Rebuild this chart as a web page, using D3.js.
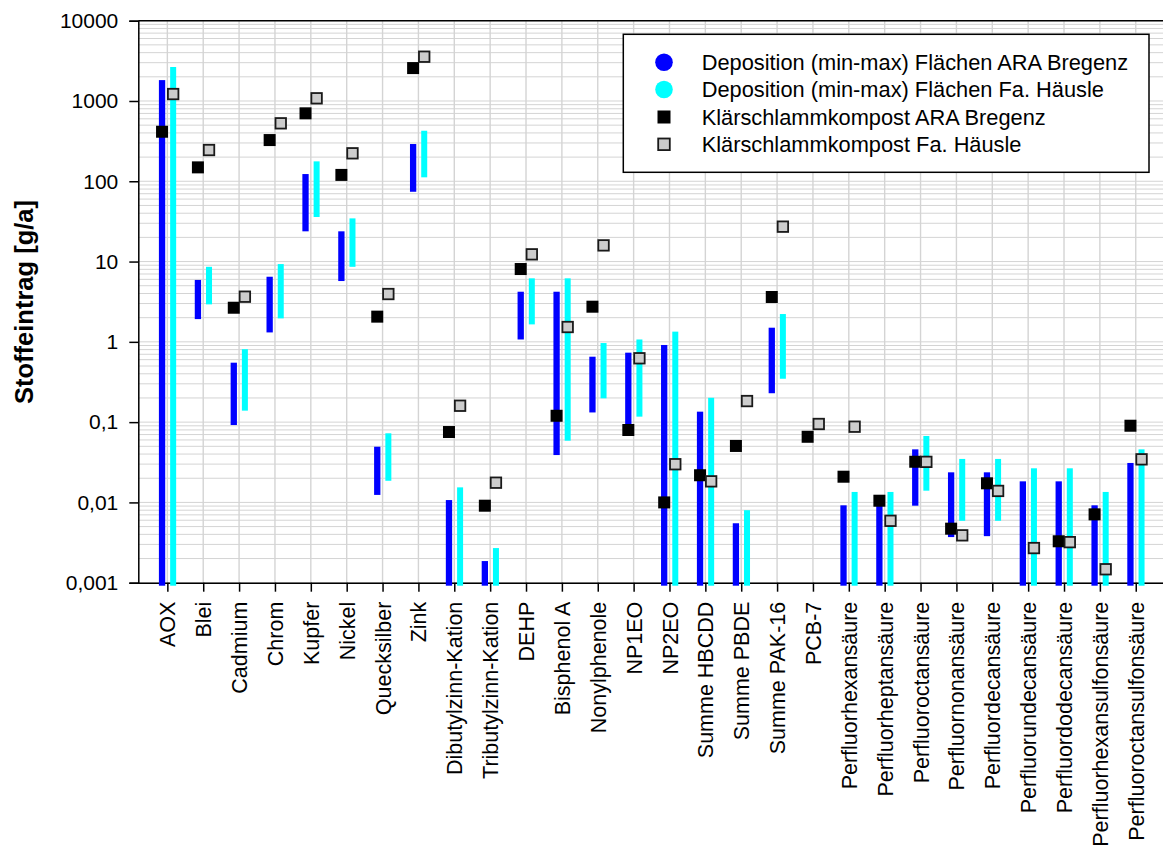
<!DOCTYPE html>
<html>
<head>
<meta charset="utf-8">
<script src="https://cdn.jsdelivr.net/npm/d3@7/dist/d3.min.js"></script>
<style>
  html, body { margin: 0; padding: 0; background: #ffffff; }
  svg { display: block; font-family: Arial, "Liberation Sans", sans-serif; }
</style>
</head>
<body>
<svg id="chart" width="1163" height="850"></svg>
<script>
// Substances on the x axis
const categories = [
  "AOX", "Blei", "Cadmium", "Chrom", "Kupfer", "Nickel", "Quecksilber", "Zink",
  "Dibutylzinn-Kation", "Tributylzinn-Kation", "DEHP", "Bisphenol A", "Nonylphenole",
  "NP1EO", "NP2EO", "Summe HBCDD", "Summe PBDE", "Summe PAK-16", "PCB-7",
  "Perfluorhexansäure", "Perfluorheptansäure", "Perfluoroctansäure", "Perfluornonansäure",
  "Perfluordecansäure", "Perfluorundecansäure", "Perfluordodecansäure",
  "Perfluorhexansulfonsäure", "Perfluoroctansulfonsäure"
];

// Deposition range (min / max) on the ARA Bregenz areas, g/a
const depAraMin = [0.001, 1.92, 0.092, 1.31, 23.8, 5.72, 0.0124, 74, 0.001, 0.001,
  1.07, 0.0389, 0.132, 0.085, 0.001, 0.001, 0.001, 0.229, null,
  0.001, 0.001, 0.0091, 0.0037, 0.0038, 0.001, 0.001, 0.001, 0.001];
const depAraMax = [1820, 5.9, 0.55, 6.47, 123, 23.8, 0.0494, 291, 0.0107, 0.00186,
  4.21, 4.21, 0.653, 0.733, 0.914, 0.135, 0.0055, 1.50, null,
  0.0092, 0.0092, 0.0458, 0.0237, 0.0237, 0.0183, 0.0183, 0.0092, 0.031];

// Deposition range (min / max) on the Fa. Häusle areas, g/a
const depHauMin = [0.001, 2.93, 0.139, 1.96, 35.9, 8.6, 0.0186, 112, 0.001, 0.001,
  1.65, 0.0587, 0.198, 0.117, 0.001, 0.001, 0.001, 0.347, null,
  0.001, 0.001, 0.014, 0.0059, 0.0059, 0.001, 0.001, 0.001, 0.001];
const depHauMax = [2650, 8.6, 0.81, 9.3, 177, 34.5, 0.0726, 426, 0.0154, 0.0027,
  6.18, 6.18, 0.966, 1.07, 1.34, 0.201, 0.008, 2.22, null,
  0.0135, 0.0135, 0.0672, 0.0348, 0.0348, 0.0266, 0.0266, 0.0135, 0.0458];

// Sewage sludge compost loads, g/a
const kompostAra = [414, 149, 2.66, 326, 702, 120, 2.06, 2570, 0.0753, 0.0091,
  8.07, 0.120, 2.74, 0.0798, 0.01, 0.0218, 0.0505, 3.62, 0.0657,
  0.0209, 0.0105, 0.0321, 0.00471, 0.0173, null, 0.00328, 0.0071, 0.0902];
const kompostHau = [1220, 245, 3.65, 527, 1080, 223, 3.94, 3560, 0.160, 0.0176,
  12.3, 1.53, 15.9, 0.624, 0.0299, 0.0183, 0.183, 27.2, 0.0948,
  0.0877, 0.0059, 0.032, 0.00389, 0.0139, 0.0027, 0.0032, 0.00147, 0.0344];

// Axis ticks
const yTickValues = [0.001, 0.01, 0.1, 1, 10, 100, 1000, 10000];
const yTickLabels = ["0,001", "0,01", "0,1", "1", "10", "100", "1000", "10000"];

const legendLabels = [
  "Deposition (min-max) Flächen ARA Bregenz",
  "Deposition (min-max) Flächen Fa. Häusle",
  "Klärschlammkompost ARA Bregenz",
  "Klärschlammkompost Fa. Häusle"
];

const colBlue = "#0000ff", colCyan = "#00ffff", colGrey = "#cccccc";

const svg = d3.select("#chart");
const plot = { left: 138.3, top: 20.7, right: 1164.8, bottom: 582.7 };

const x = d3.scalePoint()
  .domain(categories)
  .range([plot.left, plot.right])
  .padding(0.81);

const y = d3.scaleLog()
  .domain([yTickValues[0], yTickValues[yTickValues.length - 1]])
  .range([plot.bottom, plot.top]);

// Horizontal grid: every 1..9 step of each decade
const gridValues = [];
for (let e = -3; e < 4; e++) {
  for (let m = 1; m <= 9; m++) gridValues.push(m * Math.pow(10, e));
}
gridValues.push(10000);

const grid = svg.append("g").attr("stroke", "#d4d4d4").attr("stroke-width", 1);
grid.selectAll("line.h").data(gridValues).join("line")
  .attr("class", "h")
  .attr("x1", plot.left).attr("x2", plot.right)
  .attr("y1", d => y(d)).attr("y2", d => y(d));
grid.selectAll("line.v").data(categories).join("line")
  .attr("class", "v")
  .attr("stroke-width", 1.4)
  .attr("x1", d => x(d)).attr("x2", d => x(d))
  .attr("y1", plot.top).attr("y2", plot.bottom);

// Frame on top
svg.append("line")
  .attr("x1", plot.left).attr("x2", plot.right)
  .attr("y1", plot.top).attr("y2", plot.top)
  .attr("stroke", "#000").attr("stroke-width", 1.5);

// Y axis
const yAxis = d3.axisLeft(y)
  .tickValues(yTickValues)
  .tickFormat((d, i) => yTickLabels[i])
  .tickSize(9)
  .tickPadding(11);
const gy = svg.append("g")
  .attr("transform", `translate(${plot.left},0)`)
  .call(yAxis);
gy.select(".domain").attr("stroke", "#000").attr("stroke-width", 1.5);
gy.selectAll(".tick line").attr("stroke", "#000").attr("stroke-width", 1.5);
gy.selectAll(".tick text")
  .attr("font-size", 21)
  .attr("fill", "#000")
  .attr("font-family", "Arial, 'Liberation Sans', sans-serif");

// X axis
const xAxis = d3.axisBottom(x).tickSize(9).tickSizeOuter(0);
const gx = svg.append("g")
  .attr("transform", `translate(0,${plot.bottom})`)
  .call(xAxis);
gx.select(".domain").attr("stroke", "#000").attr("stroke-width", 1.5);
gx.selectAll(".tick line").attr("stroke", "#000").attr("stroke-width", 1.5);
gx.selectAll(".tick text")
  .attr("font-size", 21.5)
  .attr("fill", "#000")
  .attr("font-family", "Arial, 'Liberation Sans', sans-serif")
  .attr("transform", "rotate(-90)")
  .attr("text-anchor", "end")
  .attr("x", -19)
  .attr("y", 0)
  .attr("dy", "0.35em");

// Y axis title
svg.append("text")
  .attr("transform", "translate(33,302) rotate(-90)")
  .attr("text-anchor", "middle")
  .attr("font-size", 25.5)
  .attr("font-weight", "bold")
  .attr("fill", "#000")
  .text("Stoffeintrag [g/a]");

// Deposition ranges as vertical bars
const floorValue = yTickValues[0];
function rangeBars(mins, maxs, offset, width, color) {
  const rows = categories.map((c, i) => ({ c, lo: mins[i], hi: maxs[i] }))
    .filter(d => d.lo != null && d.hi != null);
  svg.append("g").selectAll("rect").data(rows).join("rect")
    .attr("x", d => x(d.c) + offset - width / 2)
    .attr("width", width)
    .attr("y", d => y(d.hi))
    .attr("height", d => y(d.lo) - y(d.hi) + (d.lo <= floorValue ? 3 : 0))
    .attr("fill", color);
}
rangeBars(depAraMin, depAraMax, -5.3, 6.3, colBlue);
rangeBars(depHauMin, depHauMax, 5.8, 6, colCyan);

// Compost loads as squares
function squares(vals, offset, fill, stroke) {
  const rows = categories.map((c, i) => ({ c, v: vals[i] })).filter(d => d.v != null);
  const s = stroke ? 10.5 : 12;
  svg.append("g").selectAll("rect").data(rows).join("rect")
    .attr("x", d => x(d.c) + offset - s / 2)
    .attr("y", d => y(d.v) - s / 2)
    .attr("width", s).attr("height", s)
    .attr("fill", fill)
    .attr("stroke", stroke || "none")
    .attr("stroke-width", stroke ? 1.8 : 0);
}
squares(kompostAra, -5.3, "#000000", null);
squares(kompostHau, 5.8, colGrey, "#1a1a1a");

// Legend
const lg = svg.append("g");
lg.append("rect")
  .attr("x", 623.3).attr("y", 34.3)
  .attr("width", 525.7).attr("height", 138)
  .attr("fill", "#ffffff").attr("stroke", "#000").attr("stroke-width", 1.5);
const rowY = [62.3, 89.5, 117, 144.3];
lg.append("circle").attr("cx", 664).attr("cy", rowY[0]).attr("r", 8.8).attr("fill", colBlue);
lg.append("circle").attr("cx", 664).attr("cy", rowY[1]).attr("r", 8.8).attr("fill", colCyan);
lg.append("rect").attr("x", 664 - 6.5).attr("y", rowY[2] - 6.5).attr("width", 13).attr("height", 13).attr("fill", "#000");
lg.append("rect").attr("x", 664 - 5.8).attr("y", rowY[3] - 5.8).attr("width", 11.6).attr("height", 11.6)
  .attr("fill", colGrey).attr("stroke", "#1a1a1a").attr("stroke-width", 1.8);
lg.selectAll("text").data(legendLabels).join("text")
  .attr("x", 701.7)
  .attr("y", (d, i) => rowY[i])
  .attr("dy", "0.36em")
  .attr("font-size", 21.8)
  .attr("fill", "#000")
  .text(d => d);
</script>
</body>
</html>
